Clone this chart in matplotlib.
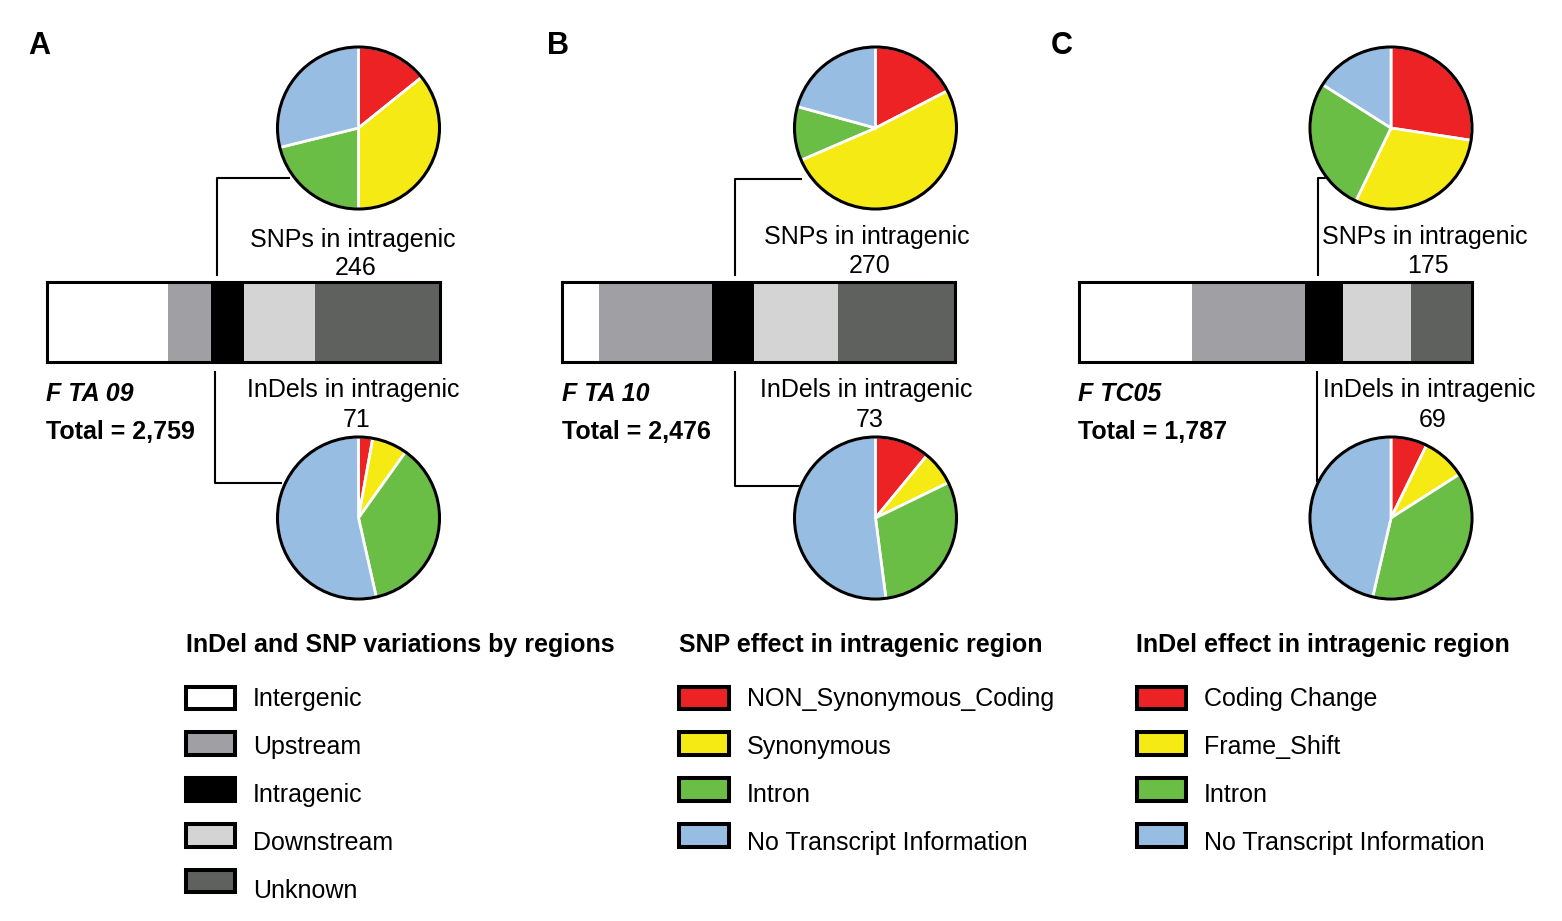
import numpy as np
import matplotlib.pyplot as plt
from matplotlib.patches import Rectangle, Circle

plt.rcParams['font.family'] = ['Liberation Sans', 'DejaVu Sans']

W, H = 1562, 921

panel_letters = ["A", "B", "C"]
samples = ["F TA 09", "F TA 10", "F TC05"]
totals = [2759, 2476, 1787]

region_names = ["Intergenic", "Upstream", "Intragenic", "Downstream", "Unknown"]
region_colors = ["#ffffff", "#a0a0a4", "#000000", "#d4d4d4", "#5f615f"]
regions_A = [853, 303, 234, 494, 875]
regions_B = [235, 708, 265, 530, 738]
regions_C = [516, 515, 173, 309, 274]

snp_names = ["NON_Synonymous_Coding", "Synonymous", "Intron", "No Transcript Information"]
indel_names = ["Coding Change", "Frame_Shift", "Intron", "No Transcript Information"]
effect_colors = ["#ed2224", "#f5ea14", "#6abd45", "#97bde3"]

snp_totals = [246, 270, 175]
indel_totals = [71, 73, 69]
snp_A = [35, 88, 52, 71]
snp_B = [47, 138, 29, 56]
snp_C = [48, 52, 47, 28]
indel_A = [2, 5, 26, 38]
indel_B = [8, 5, 22, 38]
indel_C = [5, 6, 26, 32]

regions = [regions_A, regions_B, regions_C]
snps = [snp_A, snp_B, snp_C]
indels = [indel_A, indel_B, indel_C]

# layout in pixels (y downwards)
bar_left = [46.5, 562.0, 1078.5]
bar_w = 393.0
bar_top, bar_bot = 282.5, 362.5
pie_x = [358.5, 875.5, 1391.0]
pie_top_y, pie_bot_y = 128.0, 518.0
pie_r = 81.0
letter_x = [28, 547, 1051]
snp_lab_x = [352.5, 866.5, 1424.5]
num_x_off = 3.5
indel_lab_x = [353.0, 866.5, 1429.0]
snp_lab_y = [246.5, 244.0, 244.0]
connectors_top = [[(217, 276), (217, 178), (290, 178)],
                  [(735, 276), (735, 179), (802, 179)],
                  [(1318, 276), (1318, 178), (1332, 178)]]
connectors_bot = [[(215, 371), (215, 483), (282, 483)],
                  [(735, 371), (735, 486), (802, 486)],
                  [(1317, 371), (1317, 482)]]

fig = plt.figure(figsize=(W / 100, H / 100), dpi=100)
ax = fig.add_axes([0, 0, 1, 1])

for i in range(3):
    # stacked region bar in its own axes
    bax = fig.add_axes([bar_left[i] / W, 1 - bar_bot / H, bar_w / W, (bar_bot - bar_top) / H])
    left = 0
    for val, col in zip(regions[i], region_colors):
        bax.barh(0, val, left=left, height=1, color=col, edgecolor="none")
        left += val
    bax.set_xlim(0, totals[i])
    bax.set_ylim(-0.5, 0.5)
    bax.set_xticks([])
    bax.set_yticks([])
    for sp in bax.spines.values():
        sp.set_linewidth(2.2)
        sp.set_color("black")

    # pies: start at 12 o'clock, clockwise on screen (y axis inverted)
    for vals, cy in [(snps[i], pie_top_y), (indels[i], pie_bot_y)]:
        ax.pie(vals, colors=effect_colors, center=(pie_x[i], cy), radius=pie_r,
               startangle=-90, counterclock=True, frame=True,
               wedgeprops=dict(edgecolor="white", linewidth=2))
        ax.add_patch(Circle((pie_x[i], cy), pie_r, fill=False, edgecolor="black",
                            linewidth=2.2, zorder=3))

    for pts in (connectors_top[i], connectors_bot[i]):
        xs, ys = zip(*pts)
        ax.plot(xs, ys, color="black", linewidth=1.5, zorder=0.5,
                solid_capstyle="butt")

    ax.text(letter_x[i], 54, panel_letters[i], fontsize=22, fontweight="bold",
            ha="left", va="baseline")
    ax.text(snp_lab_x[i], snp_lab_y[i], "SNPs in intragenic", fontsize=18,
            ha="center", va="baseline")
    ax.text(snp_lab_x[i] + num_x_off, snp_lab_y[i] + 28.5, str(snp_totals[i]),
            fontsize=18, ha="center", va="baseline")
    ax.text(indel_lab_x[i], 397, "InDels in intragenic", fontsize=18,
            ha="center", va="baseline")
    ax.text(indel_lab_x[i] + num_x_off, 426.5, str(indel_totals[i]), fontsize=18,
            ha="center", va="baseline")
    ax.text(bar_left[i] - 0.5, 401, samples[i], fontsize=18, fontweight="bold",
            fontstyle="italic", ha="left", va="baseline")
    ax.text(bar_left[i] - 0.5, 439, f"Total = {totals[i]:,}", fontsize=18,
            fontweight="bold", ha="left", va="baseline")

# legends
legends = [
    ("InDel and SNP variations by regions", region_names, region_colors, 185.5, 253),
    ("SNP effect in intragenic region", snp_names, effect_colors, 679.0, 747),
    ("InDel effect in intragenic region", indel_names, effect_colors, 1136.5, 1204),
]
for title, names, cols, lx, tx in legends:
    ax.text(lx, 652, title, fontsize=18, fontweight="bold", ha="left", va="baseline")
    for j, (name, col) in enumerate(zip(names, cols)):
        cy = 697.8 + 45.8 * j
        ax.add_patch(Rectangle((lx, cy - 11.3), 49.5, 22.6, facecolor=col,
                               edgecolor="black", linewidth=2.9, zorder=2))
        ax.text(tx, 705.5 + 48 * j, name, fontsize=18, ha="left", va="baseline")

ax.set_xlim(0, W)
ax.set_ylim(H, 0)
ax.set_aspect("auto")
ax.axis("off")

fig.savefig("out.png", dpi=100, facecolor="white")
